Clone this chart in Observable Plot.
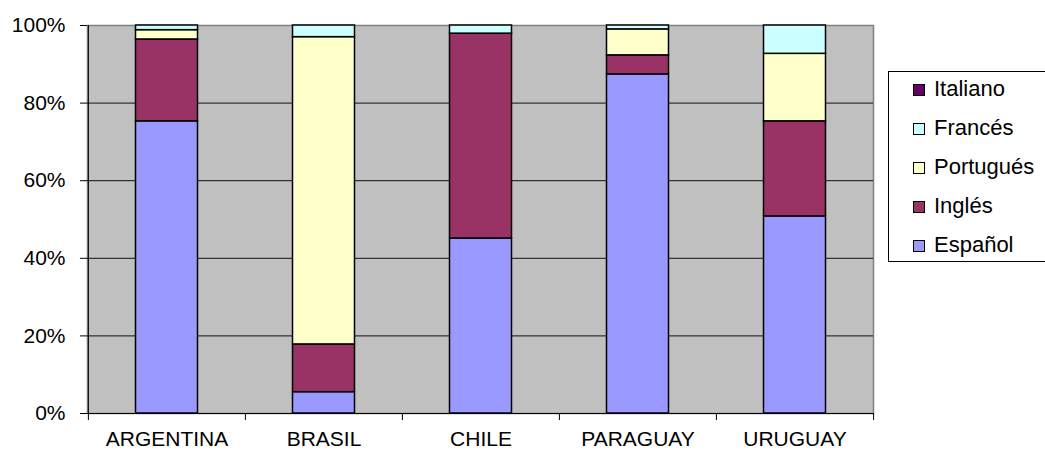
<!DOCTYPE html>
<html><head><meta charset="utf-8">
<script src="https://cdn.jsdelivr.net/npm/d3@7"></script>
<script src="https://cdn.jsdelivr.net/npm/@observablehq/plot@0.6"></script>
<style>
html,body{margin:0;padding:0;background:#fff;overflow:hidden}
#wrap{position:relative;width:1045px;height:452px;overflow:hidden}
#legend{position:absolute;left:888px;top:71px;width:170px;height:191px;border:1px solid #000;box-sizing:border-box;background:#fff;font-family:"Liberation Sans",Arial,sans-serif;font-size:22px;color:#000}
.item{position:absolute;left:24px;height:26px;line-height:26px;white-space:nowrap}
.sw{display:inline-block;width:10px;height:10px;border:1px solid #000;margin-right:9px;vertical-align:baseline}
</style>
</head><body>
<div id="wrap"><div id="chart"></div><div id="legend"></div></div>
<script>
const countries = ["ARGENTINA", "BRASIL", "CHILE", "PARAGUAY", "URUGUAY"];
const languages = ["Español", "Inglés", "Portugués", "Francés", "Italiano"];
const espanol   = [75.3, 5.5, 45.1, 87.4, 50.8];
const ingles    = [21.1, 12.3, 52.8, 4.9, 24.5];
const portugues = [2.4, 79.2, 0.0, 6.7, 17.4];
const frances   = [1.2, 3.0, 2.1, 1.0, 7.3];
const italiano  = [0.0, 0.0, 0.0, 0.0, 0.0];
const colors = ["#9999FF", "#993366", "#FFFFCC", "#CCFFFF", "#660066"];
const yTicks = [0, 0.2, 0.4, 0.6, 0.8, 1];
const gridTicks = [0.2, 0.4, 0.6, 0.8];

const series = [espanol, ingles, portugues, frances, italiano];
const rows = languages.flatMap((lang, j) =>
  countries.map((c, i) => ({country: c, lang, value: series[j][i] / 100}))
).filter(d => d.value > 0);

const W = 1045, H = 452, ml = 87, mr = 172, mt = 25, mb = 39;
const half = (W - ml - mr) / countries.length / 2;

const plot = Plot.plot({
  width: W, height: H,
  marginLeft: ml, marginRight: mr, marginTop: mt, marginBottom: mb,
  style: {fontFamily: '"Liberation Sans", Arial, sans-serif', fontSize: "21px", color: "#000", background: "#fff"},
  x: {type: "band", domain: countries, padding: 0, axis: null},
  y: {domain: [0, 1], axis: null},
  color: {domain: languages, range: colors},
  marks: [
    Plot.frame({fill: "#c0c0c0", stroke: "#808080", strokeWidth: 1.5}),
    Plot.ruleY(gridTicks, {stroke: "#111", strokeWidth: 1}),
    Plot.barY(rows, {x: "country", y: "value", fill: "lang", stroke: "#000", strokeWidth: 1.5, insetLeft: 47.5, insetRight: 47.5}),
    Plot.ruleY([0], {stroke: "#000"}),
    Plot.ruleX([countries[0]], {dx: -half, stroke: "#000"}),
    Plot.axisY({ticks: yTicks, tickFormat: d3.format(".0%"), tickSize: 7, tickPadding: 15, label: null, fontSize: 21}),
    Plot.axisX({tickSize: 0, tickPadding: 18, label: null, fontSize: 21}),
    Plot.axisX({ticks: countries, tickFormat: () => "", tickSize: 7, dx: -half, label: null}),
    Plot.axisX({ticks: [countries[countries.length - 1]], tickFormat: () => "", tickSize: 7, dx: half, label: null})
  ]
});
document.getElementById("chart").appendChild(plot);

const legend = document.getElementById("legend");
languages.slice().reverse().forEach((lang, i) => {
  const j = languages.indexOf(lang);
  const div = document.createElement("div");
  div.className = "item";
  div.style.top = (4.4 + 39 * i) + "px";
  const sw = document.createElement("span");
  sw.className = "sw";
  sw.style.background = colors[j];
  div.appendChild(sw);
  div.appendChild(document.createTextNode(lang));
  legend.appendChild(div);
});
</script>
</body></html>
